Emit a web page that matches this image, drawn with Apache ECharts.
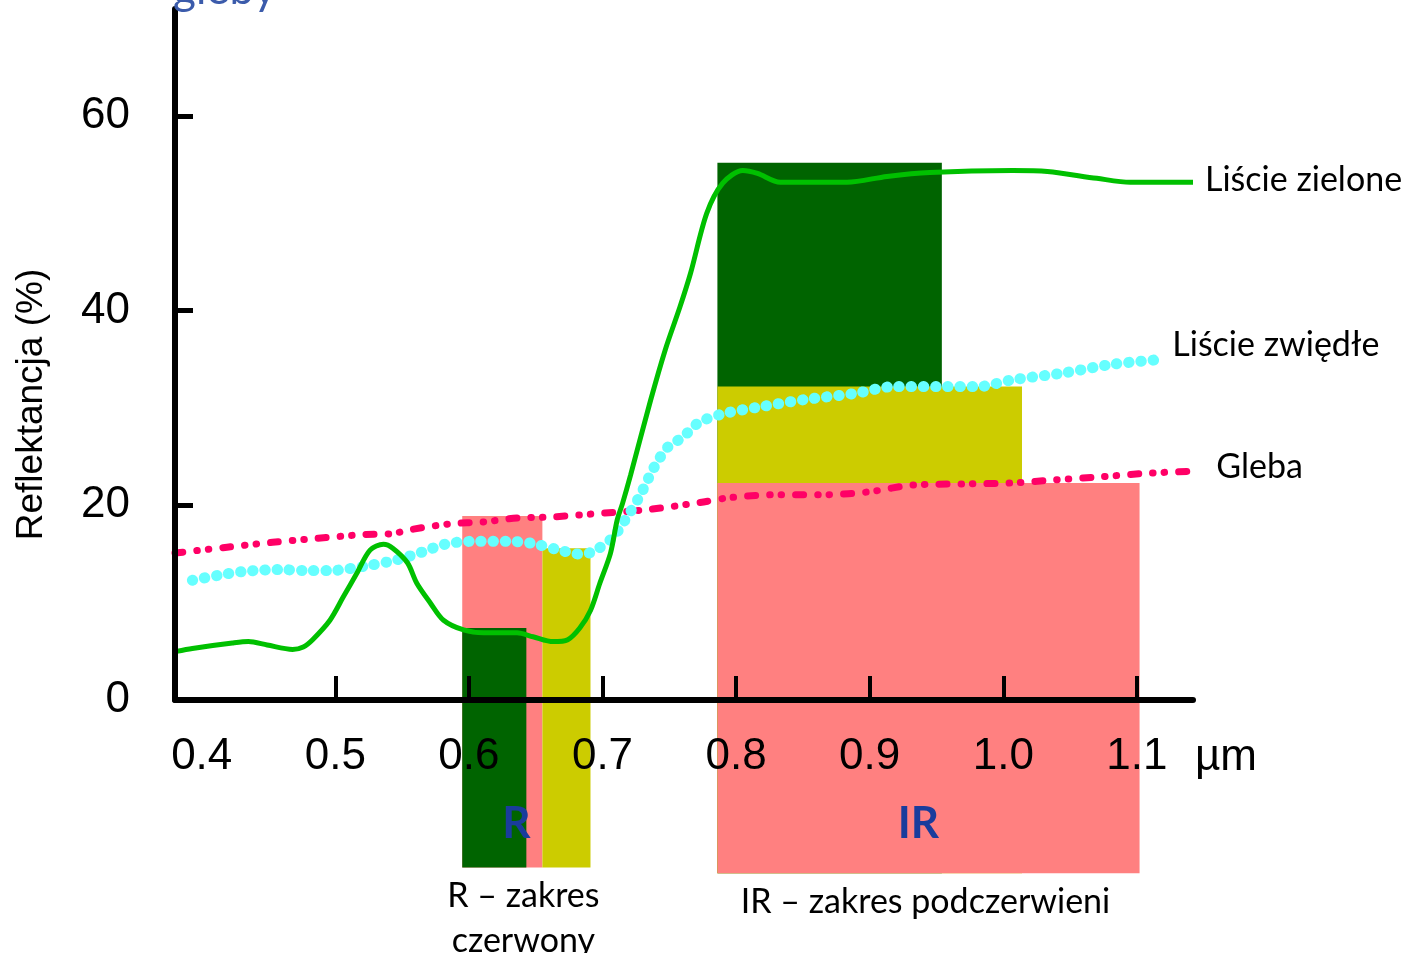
<!DOCTYPE html>
<html lang="pl">
<head>
<meta charset="utf-8">
<title>Reflektancja</title>
<script src="https://cdn.jsdelivr.net/npm/echarts@6.0.0/dist/echarts.min.js"></script>
<style>
  html, body { margin: 0; padding: 0; background: #fff; }
  #chart { width: 1404px; height: 953px; }
</style>
</head>
<body>
<div id="chart"></div>
<script>
// krzywe odbicia: [długość fali µm, reflektancja %]
const greenLeaves = [
  [0.381, 5.0], [0.393, 5.3], [0.423, 5.85], [0.435, 6.0], [0.449, 5.65], [0.468, 5.2],
  [0.476, 5.45], [0.483, 6.2], [0.496, 8.2], [0.506, 10.6], [0.516, 13.0], [0.526, 15.4],
  [0.536, 16.0], [0.543, 15.6], [0.554, 14.1], [0.561, 12.0], [0.571, 10.0], [0.581, 8.2],
  [0.596, 7.2], [0.611, 6.9], [0.636, 6.9], [0.648, 6.5], [0.663, 6.0], [0.674, 6.2],
  [0.683, 7.4], [0.691, 9.2], [0.698, 12.0], [0.706, 15.1], [0.711, 18.5], [0.715, 20.2],
  [0.721, 23.1], [0.736, 30.8], [0.747, 36.0], [0.758, 40.4], [0.766, 43.9], [0.778, 50.0],
  [0.790, 53.1], [0.805, 54.4], [0.816, 54.1], [0.833, 53.2], [0.883, 53.2], [0.913, 53.8],
  [0.945, 54.2], [1.007, 54.4], [1.033, 54.3], [1.070, 53.6], [1.095, 53.2], [1.142, 53.2]
]
const wiltedLeaves = [
  [0.393, 12.3], [0.412, 12.8], [0.431, 13.2], [0.459, 13.4], [0.477, 13.3], [0.496, 13.3],
  [0.524, 13.8], [0.546, 14.4], [0.565, 15.2], [0.582, 16.0], [0.601, 16.3], [0.629, 16.3],
  [0.647, 16.1], [0.665, 15.5], [0.683, 15.0], [0.692, 15.2], [0.707, 16.6], [0.717, 18.5],
  [0.728, 21.0], [0.739, 24.0], [0.749, 26.0], [0.760, 27.0], [0.772, 28.5], [0.790, 29.4],
  [0.817, 30.1], [0.853, 30.9], [0.889, 31.5], [0.918, 32.2], [0.954, 32.2], [0.981, 32.2],
  [1.007, 32.9], [1.045, 33.6], [1.082, 34.5], [1.119, 35.0]
]
const soil = [
  [0.380, 15.1], [0.419, 15.7], [0.453, 16.2], [0.486, 16.6], [0.521, 17.0], [0.543, 17.1],
  [0.556, 17.5], [0.586, 18.1], [0.611, 18.3], [0.636, 18.7], [0.661, 18.8], [0.691, 19.1],
  [0.736, 19.6], [0.773, 20.3], [0.796, 20.8], [0.833, 21.1], [0.868, 21.1], [0.900, 21.4],
  [0.933, 22.1], [0.970, 22.2], [1.007, 22.3], [1.037, 22.6], [1.070, 22.9], [1.108, 23.3],
  [1.140, 23.5]
]

// zakresy R i IR: [od µm, do µm, reflektancja %] dla każdej klasy
const bandNames = ['R', 'IR']
const bandCaptions = ['R – zakres\nczerwony', 'IR – zakres podczerwieni']
const bandBottom = [-17.2, -17.8]
const greenBlocks = [[0.595, 0.643, 7.4], [0.786, 0.954, 55.2]]
const wiltedBlocks = [[0.655, 0.691, 15.6], [0.786, 1.014, 32.2]]
const soilBlocks = [[0.595, 0.655, 18.9], [0.786, 1.102, 22.3]]

const xLabelValues = [0.4, 0.5, 0.6, 0.7, 0.8, 0.9, 1.0, 1.1]
const xTickValues = [0.5, 0.6, 0.7, 0.8, 0.9, 1.0, 1.1]
const yLabelValues = [0, 20, 40, 60]
const yTickValues = [20, 40, 60]

const seriesNames = ['Liście zielone', 'Liście zwiędłe', 'Gleba']
const classColors = ['#006400', '#cccc00', '#ff8080']
const lineColors = ['#00c000', '#66ffff', '#ff0066']

// wyższe prostokąty rysowane najpierw
const blockData = []
bandNames.forEach((b, i) => {
  const items = [greenBlocks[i], wiltedBlocks[i], soilBlocks[i]]
    .map((blk, c) => [blk[0], blk[1], blk[2], bandBottom[i], c])
  items.sort((a, b2) => b2[2] - a[2])
  blockData.push(...items)
})
const bandData = bandNames.map((b, i) => {
  const blks = [greenBlocks[i], wiltedBlocks[i], soilBlocks[i]]
  return [Math.min(...blks.map(x => x[0])), Math.max(...blks.map(x => x[1])), bandBottom[i], i]
})

const labelFont = 'Lato, "Open Sans", sans-serif'
const axisFont = '"Liberation Sans", Arial, sans-serif'

const endLabel = (distance, dy) => ({
  show: true,
  formatter: '{a}',
  color: '#000',
  fontFamily: labelFont,
  fontSize: 34,
  distance,
  offset: [0, dy]
})

const chart = echarts.init(document.getElementById('chart'))
chart.setOption({
  animation: false,
  title: {
    text: 'gleby',
    left: 168,
    top: -37,
    textStyle: { color: '#3b5bab', fontFamily: labelFont, fontSize: 44, fontWeight: 'normal' }
  },
  grid: { left: 175, right: 211, top: 9, bottom: 253, outerBoundsMode: 'none', containLabel: false },
  xAxis: {
    type: 'value',
    min: 0.38,
    max: 1.142,
    z: 5,
    name: 'µm',
    nameLocation: 'end',
    nameGap: 2,
    nameMoveOverlap: false,
    nameTextStyle: { color: '#000', fontFamily: axisFont, fontSize: 44, verticalAlign: 'top', padding: [36, 0, 0, 0] },
    axisLine: { lineStyle: { color: '#000', width: 6, cap: 'round' } },
    axisTick: { inside: true, length: 24, customValues: xTickValues, lineStyle: { color: '#000', width: 4 } },
    axisLabel: {
      customValues: xLabelValues,
      margin: 35,
      color: '#000',
      fontFamily: axisFont,
      fontSize: 44,
      formatter: v => v.toFixed(1)
    },
    splitLine: { show: false }
  },
  yAxis: {
    type: 'value',
    min: 0,
    max: 71,
    z: 5,
    name: 'Reflektancja (%)',
    nameLocation: 'middle',
    nameRotate: 90,
    nameGap: 125,
    nameMoveOverlap: false,
    nameTextStyle: { color: '#000', fontFamily: axisFont, fontSize: 37, padding: [0, 100, 0, 0] },
    axisLine: { show: true, lineStyle: { color: '#000', width: 6, cap: 'round' } },
    axisTick: { show: true, inside: true, length: 18, customValues: yTickValues, lineStyle: { color: '#000', width: 5 } },
    axisLabel: { customValues: yLabelValues, margin: 45, color: '#000', fontFamily: axisFont, fontSize: 44 },
    splitLine: { show: false }
  },
  series: [
    {
      type: 'custom',
      name: 'bloki',
      silent: true,
      clip: false,
      z: -1,
      data: blockData,
      encode: { x: [0, 1], y: [2, 3] },
      renderItem: (params, api) => {
        const p0 = api.coord([api.value(0), api.value(2)])
        const p1 = api.coord([api.value(1), api.value(3)])
        return {
          type: 'rect',
          shape: { x: p0[0], y: p0[1], width: p1[0] - p0[0], height: p1[1] - p0[1] },
          style: { fill: classColors[api.value(4)] }
        }
      }
    },
    {
      type: 'custom',
      name: 'pasma',
      silent: true,
      clip: false,
      z: 3,
      data: bandData,
      encode: { x: [0, 1], y: 2 },
      renderItem: (params, api) => {
        const i = api.value(3)
        const mid = (api.value(0) + api.value(1)) / 2
        const letter = api.coord([mid, -12.7])
        const base = api.coord([mid, api.value(2)])
        return {
          type: 'group',
          children: [
            {
              type: 'text', x: letter[0] - 10, y: letter[1],
              style: { text: bandNames[i], fill: '#1a3c9c', font: 'bold 44px ' + labelFont, align: 'center', verticalAlign: 'middle' }
            },
            {
              type: 'text', x: base[0] - 3, y: base[1] + 6,
              style: { text: bandCaptions[i], fill: '#000', font: '34px ' + labelFont, align: 'center', verticalAlign: 'top', lineHeight: 45 }
            }
          ]
        }
      }
    },
    {
      type: 'line',
      name: seriesNames[2],
      data: soil,
      symbol: 'none',
      smooth: 0.3,
      clip: false,
      lineStyle: { color: lineColors[2], width: 7, type: [8, 14, 0.5, 11, 0.5, 14], cap: 'round' },
      endLabel: endLabel(26, -4)
    },
    {
      type: 'line',
      name: seriesNames[1],
      data: wiltedLeaves,
      symbol: 'none',
      smooth: 0.3,
      clip: false,
      lineStyle: { color: lineColors[1], width: 11, type: [0.5, 11.7], cap: 'round' },
      endLabel: endLabel(10, -14)
    },
    {
      type: 'line',
      name: seriesNames[0],
      data: greenLeaves,
      symbol: 'none',
      smooth: 0.3,
      clip: false,
      lineStyle: { color: lineColors[0], width: 5 },
      endLabel: endLabel(12, -2)
    }
  ]
})
</script>
</body>
</html>
